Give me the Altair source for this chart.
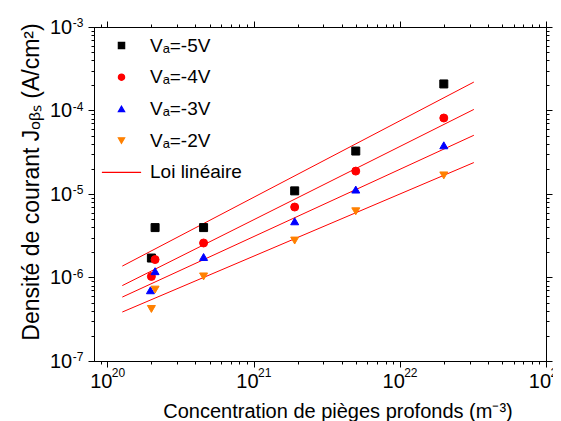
import math
import altair as alt
import pandas as pd

# ---------------- data ----------------
SERIES = ["Vₐ=-5V", "Vₐ=-4V", "Vₐ=-3V", "Vₐ=-2V"]
FIT_LABEL = "Loi linéaire"

X_5V = [2.0e20, 2.12e20, 4.55e20, 1.91e21, 5.0e21, 2.0e22]
Y_5V = [1.71e-6, 3.96e-6, 3.96e-6, 1.09e-5, 3.27e-5, 2.08e-4]
X_4V = [2.0e20, 2.12e20, 4.55e20, 1.91e21, 5.0e21, 2.0e22]
Y_4V = [1.03e-6, 1.64e-6, 2.59e-6, 6.98e-6, 1.88e-5, 8.13e-5]
X_3V = [1.97e20, 2.12e20, 4.55e20, 1.91e21, 5.0e21, 2.0e22]
Y_3V = [7.03e-7, 1.19e-6, 1.76e-6, 4.71e-6, 1.13e-5, 3.83e-5]
X_2V = [2.0e20, 2.12e20, 4.55e20, 1.91e21, 5.0e21, 2.0e22]
Y_2V = [4.2e-7, 7.16e-7, 1.03e-6, 2.77e-6, 6.21e-6, 1.67e-5]

FIT_X = [1.265e20, 3.21e22]
FIT_5V = [1.37e-6, 2.19e-4]
FIT_4V = [8.0e-7, 1.03e-4]
FIT_3V = [5.83e-7, 5.05e-5]
FIT_2V = [3.86e-7, 2.38e-5]

BASE = "10"
X_MAJOR = [1e20, 1e21, 1e22, 1e23]
X_EXP = ["20", "21", "22", "23"]
Y_MAJOR = [1e-7, 1e-6, 1e-5, 1e-4, 1e-3]
Y_EXP = ["-7", "-6", "-5", "-4", "-3"]

X_TITLE = "Concentration de pièges profonds (m⁻³)"
Y_TITLE = "Densité de courant Jₒᵦₛ (A/cm²)"

# ---------------- tables ----------------
rows = []
for name, xs, ys in zip(SERIES, [X_5V, X_4V, X_3V, X_2V], [Y_5V, Y_4V, Y_3V, Y_2V]):
    for xv, yv in zip(xs, ys):
        rows.append({"serie": name, "x": xv, "y": yv})
points = pd.DataFrame(rows)

frows = []
for name, ys in zip(SERIES, [FIT_5V, FIT_4V, FIT_3V, FIT_2V]):
    for xv, yv in zip(FIT_X, ys):
        frows.append({"fit": name, "x": xv, "y": yv})
fits = pd.DataFrame(frows)

xexp = pd.DataFrame({"x": X_MAJOR, "e": X_EXP})
yexp = pd.DataFrame({"y": Y_MAJOR, "e": Y_EXP})

domain = SERIES + [FIT_LABEL]
shape_range = ["square", "circle", "triangle-up", "triangle-down", "M-6.2,0L6.2,0"]
color_range = ["#000000", "#ff0000", "#0000ff", "#ff8000", "#ff0000"]

x_ticks = [9e19] + X_MAJOR + [k * 10.0 ** e for e in (20, 21, 22) for k in range(2, 10)]
y_ticks = Y_MAJOR + [k * 10.0 ** e for e in (-7, -6, -5, -4) for k in range(2, 10)]

MAJOR_TEST = "abs(log(datum.value)/LN10 - round(log(datum.value)/LN10)) < 0.001"
LABEL_EXPR = f"({MAJOR_TEST}) ? '{BASE}' : ''"

tick_size = {"condition": {"test": MAJOR_TEST, "value": 6}, "value": 3}

x_scale = alt.Scale(type="log", domain=[8.1e19, 1e23], nice=False)
y_scale = alt.Scale(type="log", domain=[1e-7, 1e-3], nice=False)

FONT = "Liberation Sans"

x_axis = alt.Axis(orient="bottom", values=x_ticks, labelExpr=LABEL_EXPR, tickSize=tick_size,
                  labelFlush=False, labelOverlap=False, labelPadding=4, labelOffset=-6.6,
                  labelFontSize=20, title=X_TITLE, titleFontSize=20,
                  titleX=243.5, titleY=56, titleBaseline="alphabetic", titleAnchor="start",
                  titleAlign="center")
y_axis = alt.Axis(orient="left", values=y_ticks, labelExpr=LABEL_EXPR, tickSize=tick_size,
                  labelOverlap=False, labelPadding=16.3, labelFontSize=20,
                  title=Y_TITLE, titleFontSize=23,
                  titleX=-56, titleY=154.5, titleBaseline="alphabetic", titleAnchor="start",
                  titleAlign="center")

legend = alt.Legend(
    title=None, orient="none", legendX=18, legendY=9,
    symbolSize=40, labelFontSize=19, labelFont=FONT, labelColor="black",
    rowPadding=11.7, labelOffset=19, padding=0, symbolStrokeWidth=1.2,
)

color_scale = alt.Scale(domain=domain, range=color_range)

lines = alt.Chart(fits).mark_line(strokeWidth=1, color="#ff0000").encode(
    x=alt.X("x:Q", scale=x_scale, axis=None),
    y=alt.Y("y:Q", scale=y_scale, axis=None),
    detail="fit:N",
)

pts = alt.Chart(points).mark_point(filled=False, size=64, opacity=1, strokeWidth=1).encode(
    x=alt.X("x:Q", scale=x_scale, axis=x_axis),
    y=alt.Y("y:Q", scale=y_scale, axis=y_axis),
    color=alt.Color("serie:N", scale=color_scale, legend=legend),
    fill=alt.Fill("serie:N", scale=color_scale, legend=legend),
    shape=alt.Shape("serie:N", scale=alt.Scale(domain=domain, range=shape_range), legend=legend),
)

mirror = alt.Chart(points).mark_point(opacity=0).encode(
    x=alt.X("x:Q", scale=x_scale, axis=alt.Axis(orient="top", values=x_ticks, labels=False,
                                                  tickSize=tick_size, title=None)),
    y=alt.Y("y:Q", scale=y_scale, axis=alt.Axis(orient="right", values=y_ticks, labels=False,
                                                  tickSize=tick_size, title=None)),
)

xsup = alt.Chart(xexp).mark_text(align="left", baseline="alphabetic", fontSize=12, font=FONT,
                                 color="black", dx=4.4).encode(
    x=alt.X("x:Q", scale=x_scale, axis=None),
    y=alt.value(349.7),
    text="e:N",
)

ysup = alt.Chart(yexp).mark_text(align="left", baseline="alphabetic", fontSize=12, font=FONT,
                                 color="black").encode(
    x=alt.value(-21.3),
    y=alt.Y("y:Q", scale=y_scale, axis=None),
    text="e:N",
)

chart = alt.layer(lines, pts, mirror, xsup, ysup).resolve_axis(
    x="independent", y="independent"
).properties(
    width=452, height=334,
    padding={"left": 86, "top": 19, "right": 7, "bottom": 60},
    autosize=alt.AutoSizeParams(type="none"),
).configure_view(stroke="black", strokeWidth=1).configure_axis(
    grid=False, domainColor="black", tickColor="black", labelColor="black",
    labelFont=FONT, titleFont=FONT, titleFontWeight="normal", titleColor="black",
)

chart.save("out.html", embed_options={"renderer": "svg", "actions": False})
